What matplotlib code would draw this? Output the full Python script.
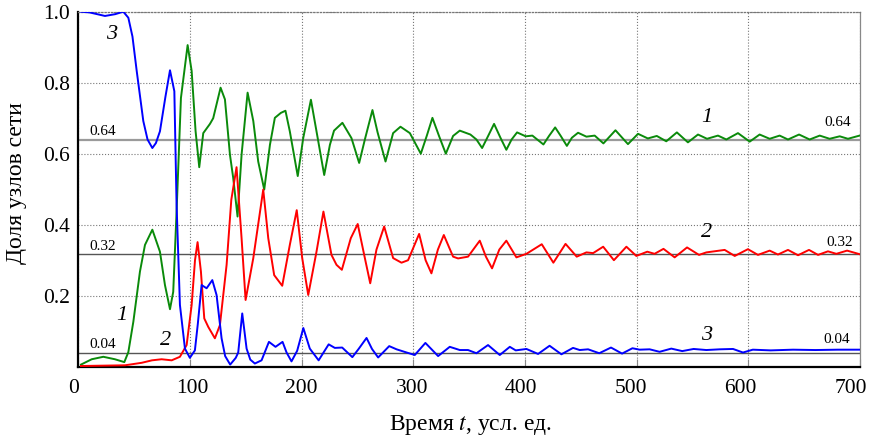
import matplotlib
matplotlib.use('Agg')
import matplotlib.pyplot as plt
from matplotlib.transforms import ScaledTranslation

plt.rcParams['font.family'] = ['Liberation Serif', 'DejaVu Serif']
plt.rcParams['mathtext.fontset'] = 'stix'

# curve 1 (green)
g_t = [2.4, 12, 22.4, 32.8, 41.2, 44.8, 49.3, 55.2, 59.7, 66.3, 73.1, 77.6, 82.1, 85.0, 88.0, 91.9,
       97.9, 101.5, 105.0, 108.3, 111.9, 117.9, 120.8, 127.4, 131.3, 135.8, 138.7, 142.6, 146.2, 151.6,
       156.7, 161.1, 166.5, 171.6, 176.0, 181.4, 185.5, 189.4, 196.5, 201.4, 208.3, 213.3, 220.2, 225.3,
       229, 236.5, 244.6, 251.5, 256.6, 263.4, 268, 275.1, 281.9, 288.5, 296.9, 306.7, 312, 317.1, 323,
       329.1, 335.6, 341.6, 351.1, 356.5, 361.6, 367, 372.3, 378, 383.3, 388, 392.9, 400.6, 406.6, 416.5,
       421.5, 427, 432, 437.5, 442, 447.5, 455, 462.4, 470.2, 481, 492.2, 501.2, 510, 518, 526.5, 536,
       545.9, 554.9, 563, 572.8, 580.3, 590.7, 601.2, 610.1, 619.1, 628, 635.5, 645.4, 654.9, 663.9,
       672.8, 681.8, 689.2, 699.6]
g_v = [0.006, 0.021, 0.028, 0.021, 0.013, 0.041, 0.127, 0.268, 0.343, 0.386, 0.324, 0.230, 0.162, 0.211,
       0.437, 0.757, 0.906, 0.833, 0.664, 0.562, 0.658, 0.684, 0.700, 0.786, 0.753, 0.597, 0.532, 0.423,
       0.597, 0.772, 0.692, 0.578, 0.499, 0.625, 0.701, 0.715, 0.721, 0.663, 0.537, 0.644, 0.752, 0.663,
       0.540, 0.625, 0.665, 0.687, 0.644, 0.574, 0.640, 0.723, 0.660, 0.578, 0.658, 0.676, 0.658, 0.600,
       0.650, 0.701, 0.650, 0.600, 0.650, 0.665, 0.654, 0.640, 0.616, 0.650, 0.684, 0.645, 0.611, 0.640,
       0.660, 0.649, 0.651, 0.626, 0.650, 0.674, 0.650, 0.622, 0.645, 0.659, 0.648, 0.651, 0.629, 0.666,
       0.627, 0.656, 0.643, 0.650, 0.635, 0.660, 0.632, 0.654, 0.642, 0.651, 0.640, 0.658, 0.634, 0.654,
       0.642, 0.651, 0.640, 0.654, 0.640, 0.651, 0.642, 0.649, 0.642, 0.651]

# curve 2 (red)
r_t = [2.4, 41.8, 56.7, 66, 74.6, 83.6, 91, 97, 101.5, 104.5, 106.8, 109.8, 112.8, 116.4, 122.3, 126.8,
       132.8, 137, 141.7, 146.2, 149.8, 156.7, 165.6, 170.1, 175.4, 182.6, 189.4, 195.6, 200.5, 205.9,
       213.3, 219.5, 226.7, 231.2, 236, 244.0, 250.2, 256.6, 261.4, 267, 273.9, 281.9, 289.4, 295.3,
       305.2, 311, 316.2, 322, 327.3, 335.6, 340.1, 349, 359.5, 365, 370.5, 377, 383.3, 392.3, 401.3, 415,
       425.4, 436.3, 446.3, 455, 461, 470, 479.6, 490.8, 499.7, 509.5, 516, 524, 534, 545.1, 555.8, 562.4,
       578.8, 587.8, 599.6, 608.6, 619.1, 626.5, 635.5, 644.5, 654.3, 662.4, 671.3, 678.8, 688.4, 699.6]
r_v = [0.002, 0.004, 0.011, 0.018, 0.021, 0.018, 0.028, 0.061, 0.174, 0.300, 0.351, 0.268, 0.136, 0.112,
       0.080, 0.117, 0.287, 0.470, 0.562, 0.362, 0.188, 0.306, 0.499, 0.362, 0.258, 0.228, 0.343, 0.441,
       0.306, 0.202, 0.324, 0.437, 0.315, 0.287, 0.273, 0.362, 0.402, 0.306, 0.235, 0.330, 0.395, 0.306,
       0.293, 0.300, 0.374, 0.300, 0.263, 0.330, 0.371, 0.310, 0.305, 0.310, 0.355, 0.310, 0.277, 0.330,
       0.355, 0.308, 0.318, 0.345, 0.293, 0.346, 0.310, 0.322, 0.320, 0.338, 0.300, 0.338, 0.312, 0.324,
       0.318, 0.332, 0.308, 0.336, 0.315, 0.322, 0.329, 0.312, 0.331, 0.315, 0.327, 0.316, 0.329, 0.314,
       0.329, 0.315, 0.325, 0.318, 0.327, 0.317]

# curve 3 (blue)
b_t = [2.4, 10, 23.9, 33, 40.3, 44.8, 48.5, 52.3, 58.2, 62, 66.3, 69.5, 73.1, 78, 82.1, 86, 88.0, 91,
       95.5, 99.9, 104.4, 107, 110.4, 114.9, 120, 123.8, 128.3, 131.5, 136, 141, 143.2, 146.8, 150.7, 154,
       158.1, 164.1, 170.7, 176.6, 182.9, 186.5, 190.9, 196, 201.5, 207.3, 215.2, 224.2, 229.7, 236.3,
       245.4, 251, 258.1, 263, 268.5, 278.4, 285, 294, 301.3, 310.8, 322.2, 332.6, 341.6, 349, 356.5, 366.9,
       377.4, 386.4, 391.7, 401.3, 411.7, 422, 432.6, 443, 449, 456.5, 466.5, 477, 486.9, 496.2, 502.6,
       511.6, 520.5, 531, 540.8, 551, 562.4, 574.4, 586.3, 595.2, 604, 620, 640, 660, 680, 699.6]
b_v = [1.0, 0.998, 0.988, 0.993, 1.0, 0.983, 0.93, 0.833, 0.692, 0.64, 0.616, 0.630, 0.663, 0.76, 0.835,
       0.776, 0.456, 0.174, 0.051, 0.025, 0.046, 0.12, 0.23, 0.221, 0.244, 0.202, 0.080, 0.03, 0.006, 0.025,
       0.040, 0.150, 0.051, 0.02, 0.009, 0.018, 0.070, 0.056, 0.070, 0.04, 0.015, 0.045, 0.109, 0.051,
       0.018, 0.063, 0.053, 0.054, 0.027, 0.05, 0.081, 0.05, 0.026, 0.058, 0.049, 0.040, 0.033, 0.067,
       0.030, 0.056, 0.047, 0.047, 0.038, 0.061, 0.033, 0.056, 0.046, 0.050, 0.036, 0.059, 0.035, 0.053,
       0.047, 0.049, 0.038, 0.054, 0.037, 0.052, 0.048, 0.049, 0.042, 0.051, 0.044, 0.050, 0.047, 0.049,
       0.050, 0.040, 0.048, 0.046, 0.048, 0.047, 0.048, 0.048]

levels = [0.64, 0.318, 0.038]
level_labels = ['0.64', '0.32', '0.04']
x_ticks = [0, 100, 200, 300, 400, 500, 600, 700]
y_ticks = [0.2, 0.4, 0.6, 0.8, 1.0]

fig = plt.figure(figsize=(8.71, 4.43), dpi=100)
ax = fig.add_axes([0.0899, 0.1722, 0.8975, 0.8014])

ax.grid(True, ls=':', color='#777777', lw=0.8)
ax.axhline(levels[0], color='#9a9a9a', lw=1.6, zorder=2)
ax.axhline(levels[1], color='#555555', lw=1.0, zorder=2)
ax.axhline(levels[2], color='#555555', lw=1.0, zorder=2)

ax.plot(g_t, g_v, color='#0a8a0a', lw=1.4, zorder=3, solid_joinstyle='round')
ax.plot(r_t, r_v, color='#ff0000', lw=1.4, zorder=3, solid_joinstyle='round')
ax.plot(b_t, b_v, color='#0000ff', lw=1.4, zorder=3, solid_joinstyle='round')

# level values, left and right
ax.text(9.6, 0.654, level_labels[0], fontsize=11, ha='left', va='baseline')
ax.text(9.6, 0.329, level_labels[1], fontsize=11, ha='left', va='baseline')
ax.text(9.6, 0.052, level_labels[2], fontsize=11, ha='left', va='baseline')
ax.text(691.5, 0.679, level_labels[0], fontsize=11, ha='right', va='baseline')
ax.text(694, 0.340, level_labels[1], fontsize=11, ha='right', va='baseline')
ax.text(690.7, 0.066, level_labels[2], fontsize=11, ha='right', va='baseline')

# curve numbers
for t, v, s in [(30.2, 0.936, '3'), (39, 0.145, '1'), (78.5, 0.075, '2'),
                (563, 0.702, '1'), (562.7, 0.377, '2'), (563, 0.089, '3')]:
    ax.text(t, v, s, fontsize=16, style='italic', ha='center', va='center')

ax.set_xlim(0, 700)
ax.set_ylim(0, 1.0)
ax.set_xticks(x_ticks)
ax.set_yticks(y_ticks)
ax.set_yticklabels(['%.1f' % y for y in y_ticks])
ax.tick_params(axis='x', direction='in', length=6, color='#888888', pad=8.5, labelsize=15.5)
ax.tick_params(axis='y', length=0, pad=6, labelsize=15.5)

# x tick labels in the original drift slightly left of their ticks
nudge_px = [-5, 2.5, -0.5, -1.5, -4, -6, -7.7, -9.5]
for lab, dx in zip(ax.get_xticklabels(), nudge_px):
    lab.set_transform(lab.get_transform() + ScaledTranslation(dx / 100, 0, fig.dpi_scale_trans))

ax.spines['left'].set_color('black')
ax.spines['left'].set_linewidth(1.6)
ax.spines['bottom'].set_color('black')
ax.spines['bottom'].set_linewidth(1.6)
ax.spines['top'].set_color('#777777')
ax.spines['top'].set_linestyle(':')
ax.spines['top'].set_linewidth(0.9)
ax.spines['right'].set_color('#888888')
ax.spines['right'].set_linewidth(0.9)

ax.set_xlabel('Время $t$, усл. ед.', fontsize=17)
ax.xaxis.set_label_coords(0.501, -0.13)
ax.xaxis.label.set_va('top')
ax.set_ylabel('Доля узлов сети', fontsize=17)
ax.yaxis.set_label_coords(-0.066, 0.517)

fig.savefig('out.png', dpi=100)
